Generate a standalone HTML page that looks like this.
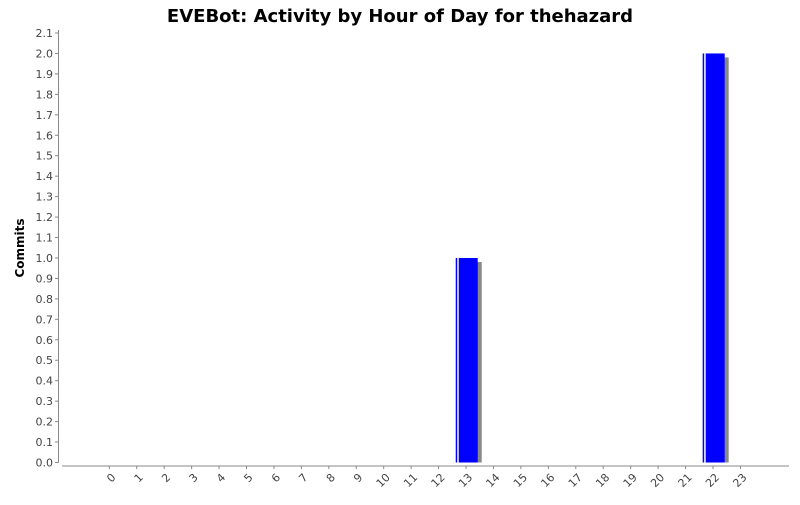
<!DOCTYPE html>
<html><head><meta charset="utf-8"><style>
body{margin:0;background:#fff;font-family:"Liberation Sans","DejaVu Sans",sans-serif}
</style></head><body>
<svg width="800" height="500" xmlns="http://www.w3.org/2000/svg">
<rect width="800" height="500" fill="#fff"/>
<text x="400" y="22" text-anchor="middle" font-size="18" font-weight="bold" font-family="DejaVu Sans, sans-serif" fill="#000">EVEBot: Activity by Hour of Day for thehazard</text>
<text transform="translate(24,248) rotate(-90)" text-anchor="middle" font-size="12" font-weight="bold" font-family="DejaVu Sans, sans-serif">Commits</text>
<g id="g"></g>
</svg>
<script>
const categories=["0","1","2","3","4","5","6","7","8","9","10","11","12","13","14","15","16","17","18","19","20","21","22","23"];
const commits=[0,0,0,0,0,0,0,0,0,0,0,0,0,1,0,0,0,0,0,0,0,0,2,0];
const yTicks=[0,0.1,0.2,0.3,0.4,0.5,0.6,0.7,0.8,0.9,1.0,1.1,1.2,1.3,1.4,1.5,1.6,1.7,1.8,1.9,2.0,2.1];
const NS="http://www.w3.org/2000/svg";
const g=document.getElementById('g');
const plotL=62,plotR=789,plotT=33,plotB=462.5,yMax=2.1;
const y=v=>plotB-(v/yMax)*(plotB-plotT);
const step=27.44,c0=109.3;
const x=i=>c0+i*step;
function mk(t,a){const e=document.createElementNS(NS,t);for(const k in a)e.setAttribute(k,a[k]);g.appendChild(e);return e;}
let e=mk('line',{x1:58.5,y1:plotT-3,x2:58.5,y2:plotB,stroke:'#888'});


e=mk('line',{x1:plotL,y1:466,x2:plotR,y2:466,stroke:'#888'});


yTicks.forEach(v=>{
  const yy=y(v);
  let t=mk('line',{x1:55,y1:yy,x2:58.5,y2:yy,stroke:'#888'});
  
  
  let l=mk('text',{x:53,y:yy+4,'text-anchor':'end','font-size':11,fill:'#444','font-family':'DejaVu Sans, sans-serif'});
  l.textContent=v.toFixed(1);
  
  
});
categories.forEach((c,i)=>{
  const xx=x(i);
  let t=mk('line',{x1:xx,y1:466,x2:xx,y2:469,stroke:'#888'});
  
  
  let l=mk('text',{transform:`translate(${xx+7},${478}) rotate(-45)`,'text-anchor':'end','font-size':11,fill:'#444','font-family':'DejaVu Sans, sans-serif'});
  l.textContent=c;
  
  
  const v=commits[i];
  if(v>0){
    const bw=22,bx=xx-bw/2+0.7,by=y(v),bh=plotB-by;
    let s=mk('rect',{x:bx+4,y:by+4,width:bw,height:bh-4,fill:'#888'});
    
    
    let b=mk('rect',{x:bx,y:by,width:bw,height:bh,fill:'#0000ff'});
    
    
    let h=mk('rect',{x:bx+1.5,y:by,width:1.5,height:bh,fill:'#fff'});
    
    
  }
});
</script>
</body></html>
